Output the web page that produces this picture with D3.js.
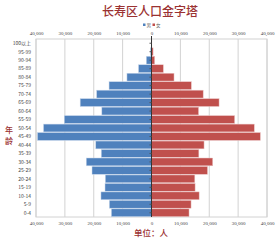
<!DOCTYPE html>
<html>
<head>
<meta charset="utf-8">
<script src="https://cdn.jsdelivr.net/npm/d3@7"></script>
<style>
 body { margin: 0; background: #fff; }
 text { font-family: "Liberation Serif", "DejaVu Serif", serif; }
</style>
</head>
<body>
<svg id="chart" width="280" height="240"></svg>
<script>
// age groups, top to bottom
var ageGroups = ['100以上', '95-99', '90-94', '85-89', '80-84', '75-79', '70-74', '65-69', '60-64',
 '55-59', '50-54', '45-49', '40-44', '35-39', '30-34', '25-29', '20-24', '15-19', '10-14', '5-9', '0-4'];
var maleValues = [60, 350, 1800, 4500, 8500, 14700, 19000, 24700, 17200,
 30200, 37400, 39500, 19300, 17400, 22600, 20600, 16000, 16100, 17500, 14600, 13900];
var femaleValues = [120, 550, 1100, 4100, 7800, 13800, 17900, 23400, 16300,
 28800, 35600, 37700, 18200, 16400, 21200, 19400, 15000, 15100, 16500, 13700, 13000];
var tickValues = [-40000, -30000, -20000, -10000, 0, 10000, 20000, 30000, 40000];

var titleColor = 'rgb(155, 50, 50)';
var maleColor = 'rgb(79, 129, 189)';
var femaleColor = 'rgb(192, 80, 77)';
var cjkFont = '"Noto Sans CJK SC", serif';

var svg = d3.select('#chart');
var plot = {left: 36, right: 267, top: 39, bottom: 217};

var x = d3.scaleLinear().domain([-40000, 40000]).range([plot.left, plot.right]);
var y = d3.scaleBand().domain(ageGroups).range([plot.top, plot.bottom]).paddingInner(0.08).paddingOuter(0.04);

// title
svg.append('text')
 .attr('x', 150).attr('y', 15.5)
 .attr('text-anchor', 'middle')
 .attr('font-size', 12)
 .attr('font-weight', 500)
 .style('fill', titleColor)
 .style('font-family', cjkFont)
 .text('长寿区人口金字塔');

// legend
var legend = svg.append('g').attr('transform', 'translate(143,26)');
legend.append('rect').attr('x', 0).attr('y', -2.5).attr('width', 2.5).attr('height', 2.5).style('fill', maleColor);
legend.append('text').attr('x', 3.5).attr('y', 0.5).attr('font-size', 4.5).style('fill', '#666')
 .style('font-family', cjkFont).text('男');
legend.append('rect').attr('x', 9.5).attr('y', -2.5).attr('width', 2.5).attr('height', 2.5).style('fill', femaleColor);
legend.append('text').attr('x', 13).attr('y', 0.5).attr('font-size', 4.5).style('fill', '#666')
 .style('font-family', cjkFont).text('女');

// plot border and grid
svg.append('rect')
 .attr('x', plot.left).attr('y', plot.top)
 .attr('width', plot.right - plot.left).attr('height', plot.bottom - plot.top)
 .style('fill', 'none').style('stroke', 'rgb(210, 210, 210)').style('stroke-width', '1px');

svg.append('g').selectAll('line')
 .data(tickValues.filter(function(d) { return d != 0; }))
 .enter().append('line')
 .attr('x1', function(d) { return x(d); }).attr('x2', function(d) { return x(d); })
 .attr('y1', plot.top).attr('y2', plot.bottom)
 .style('stroke', 'rgb(210, 210, 210)').style('stroke-width', '1px');

// value axes, top and bottom
var fmt = d3.format(',');
var topAxis = d3.axisTop(x).tickValues(tickValues).tickSize(0).tickPadding(4)
 .tickFormat(function(d) { return fmt(Math.abs(d)); });
var bottomAxis = d3.axisBottom(x).tickValues(tickValues).tickSize(0).tickPadding(4)
 .tickFormat(function(d) { return fmt(Math.abs(d)); });

var gTop = svg.append('g').attr('transform', 'translate(0,' + plot.top + ')').call(topAxis);
var gBottom = svg.append('g').attr('transform', 'translate(0,' + plot.bottom + ')').call(bottomAxis);
[gTop, gBottom].forEach(function(g) {
 g.select('.domain').remove();
 g.selectAll('text').attr('font-size', 5).style('fill', '#444');
});

// bars
var bars = svg.append('g');
bars.selectAll('.male').data(ageGroups).enter().append('rect')
 .attr('class', 'male')
 .attr('x', function(d, i) { return x(-maleValues[i]); })
 .attr('y', function(d) { return y(d); })
 .attr('width', function(d, i) { return x(0) - x(-maleValues[i]); })
 .attr('height', y.bandwidth())
 .style('fill', maleColor)
 .style('stroke', 'rgb(200, 215, 235)').style('stroke-width', '0.5px');

bars.selectAll('.female').data(ageGroups).enter().append('rect')
 .attr('class', 'female')
 .attr('x', x(0))
 .attr('y', function(d) { return y(d); })
 .attr('width', function(d, i) { return x(femaleValues[i]) - x(0); })
 .attr('height', y.bandwidth())
 .style('fill', femaleColor)
 .style('stroke', 'rgb(235, 200, 200)').style('stroke-width', '0.5px');

// category axis on zero line
var catAxis = d3.axisLeft(y).tickSize(2).tickSizeOuter(0);
var gCat = svg.append('g').attr('transform', 'translate(' + x(0) + ',0)').call(catAxis);
gCat.select('.domain').attr('d', 'M0,' + (plot.top - 3) + 'V' + plot.bottom).style('stroke', '#333');
gCat.selectAll('.tick line').style('stroke', '#555');
gCat.selectAll('.tick text').remove();

// category labels at left side
svg.append('g').selectAll('text').data(ageGroups).enter().append('text')
 .attr('x', 31)
 .attr('y', function(d) { return y(d) + y.bandwidth() / 2 + 1.8; })
 .attr('text-anchor', 'end')
 .attr('font-size', 5)
 .style('fill', '#444')
 .style('font-family', cjkFont)
 .text(function(d) { return d; });

// axis titles
svg.append('text').attr('x', 9).attr('y', 132.5).attr('text-anchor', 'middle')
 .attr('font-size', 8).attr('font-weight', 500).style('fill', titleColor)
 .style('font-family', cjkFont).text('年');
svg.append('text').attr('x', 9).attr('y', 143.5).attr('text-anchor', 'middle')
 .attr('font-size', 8).attr('font-weight', 500).style('fill', titleColor)
 .style('font-family', cjkFont).text('龄');
svg.append('text').attr('x', 151).attr('y', 236).attr('text-anchor', 'middle')
 .attr('font-size', 8.5).attr('font-weight', 500).style('fill', titleColor)
 .style('font-family', cjkFont).text('单位：人');
</script>
</body>
</html>
